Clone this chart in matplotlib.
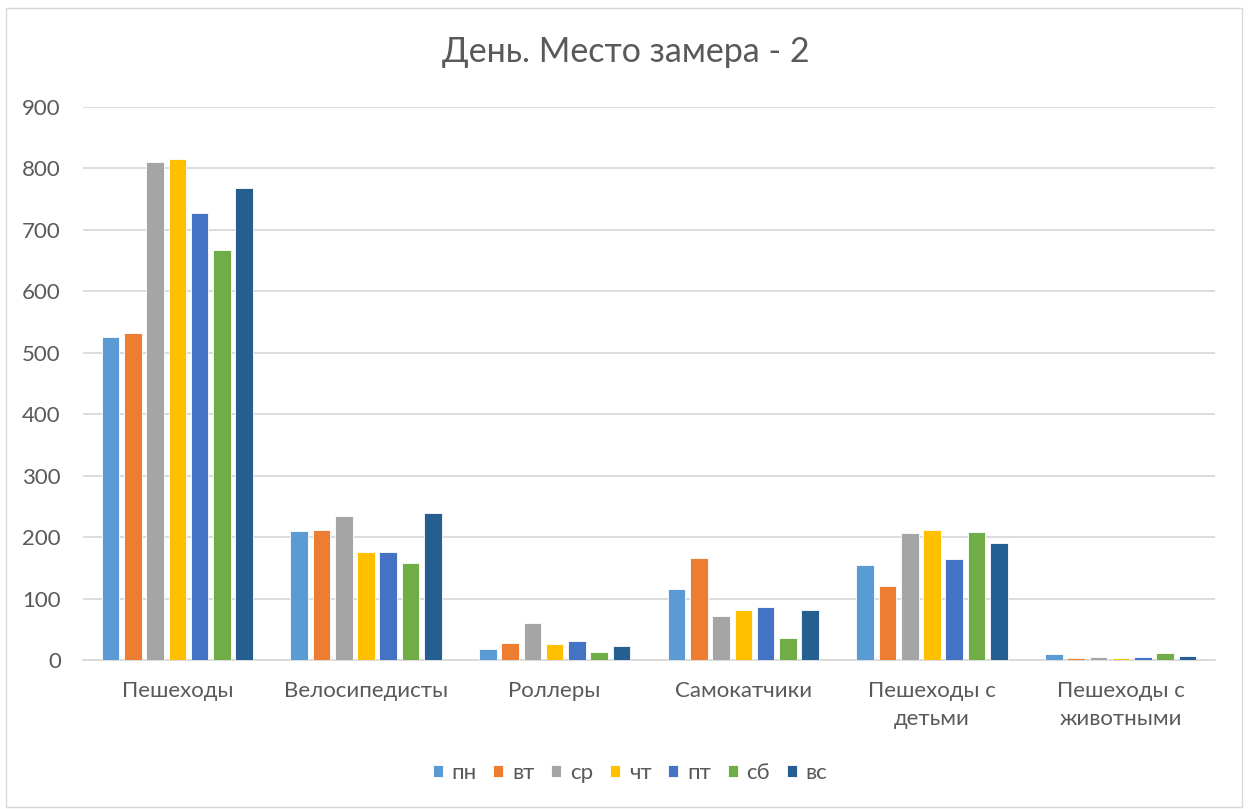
import matplotlib
matplotlib.use("Agg")
import matplotlib.pyplot as plt
import numpy as np
from matplotlib.patches import Rectangle

plt.rcParams['font.family'] = ['Lato', 'Open Sans', 'DejaVu Sans']

categories = ["Пешеходы", "Велосипедисты", "Роллеры", "Самокатчики",
              "Пешеходы с\nдетьми", "Пешеходы с\nживотными"]
days = ["пн", "вт", "ср", "чт", "пт", "сб", "вс"]

mon = [525, 210, 18, 115, 154, 9]
tue = [532, 212, 28, 166, 120, 4]
wed = [810, 234, 60, 72, 206, 5]
thu = [816, 175, 26, 81, 212, 4]
fri = [728, 175, 31, 87, 164, 5]
sat = [668, 158, 13, 36, 208, 11]
sun = [768, 239, 22, 81, 190, 7]

series = [mon, tue, wed, thu, fri, sat, sun]
colors = ["#5B9BD5", "#ED7D31", "#A5A5A5", "#FFC000", "#4472C4", "#70AD47", "#255E91"]

W, H = 1251, 809
fig = plt.figure(figsize=(W / 100, H / 100), dpi=100)
fig.patch.set_facecolor("white")

# chart border
fig.add_artist(Rectangle((6 / W, 1 - 807 / H), (1242 - 6) / W, (807 - 8) / H,
                         transform=fig.transFigure, fill=False,
                         edgecolor="#d9d9d9", linewidth=1.0))

ax = fig.add_axes([83 / W, 1 - 660 / H, (1215 - 83) / W, (660 - 107) / H])

x = np.arange(len(categories))
stride = 0.118
width = 0.093
for i, (vals, c) in enumerate(zip(series, colors)):
    ax.bar(x + (i - 3) * stride, vals, width=width, color=c, label=days[i],
           edgecolor="white", linewidth=0.6, zorder=3)

ax.set_xlim(-0.5, len(categories) - 0.5)
ax.set_ylim(0, 900)
ax.set_yticks(np.arange(0, 901, 100))
ax.yaxis.grid(True, color="#d9d9d9", linewidth=1.3, zorder=0)
ax.set_axisbelow(True)
for s in ["top", "right", "left"]:
    ax.spines[s].set_visible(False)
ax.spines["bottom"].set_color("#d9d9d9")
ax.spines["bottom"].set_linewidth(1.3)
ax.tick_params(axis="both", length=0, colors="#595959", labelsize=16)
ax.tick_params(axis="y", pad=16)
ax.tick_params(axis="x", pad=15)
ax.set_xticks(x)
ax.set_xticklabels(categories, linespacing=1.5)

fig.text(0.5, 1 - 52 / H, "День. Место замера - 2", ha="center", va="center",
         fontsize=24.5, color="#595959")

leg = fig.legend(loc="center", bbox_to_anchor=(630 / W, 1 - 773 / H), ncol=7,
                 frameon=False, fontsize=16, handlelength=0.45, handleheight=0.45,
                 handletextpad=0.4, columnspacing=0.75)
for t in leg.get_texts():
    t.set_color("#595959")

fig.savefig("out.png", dpi=100)
